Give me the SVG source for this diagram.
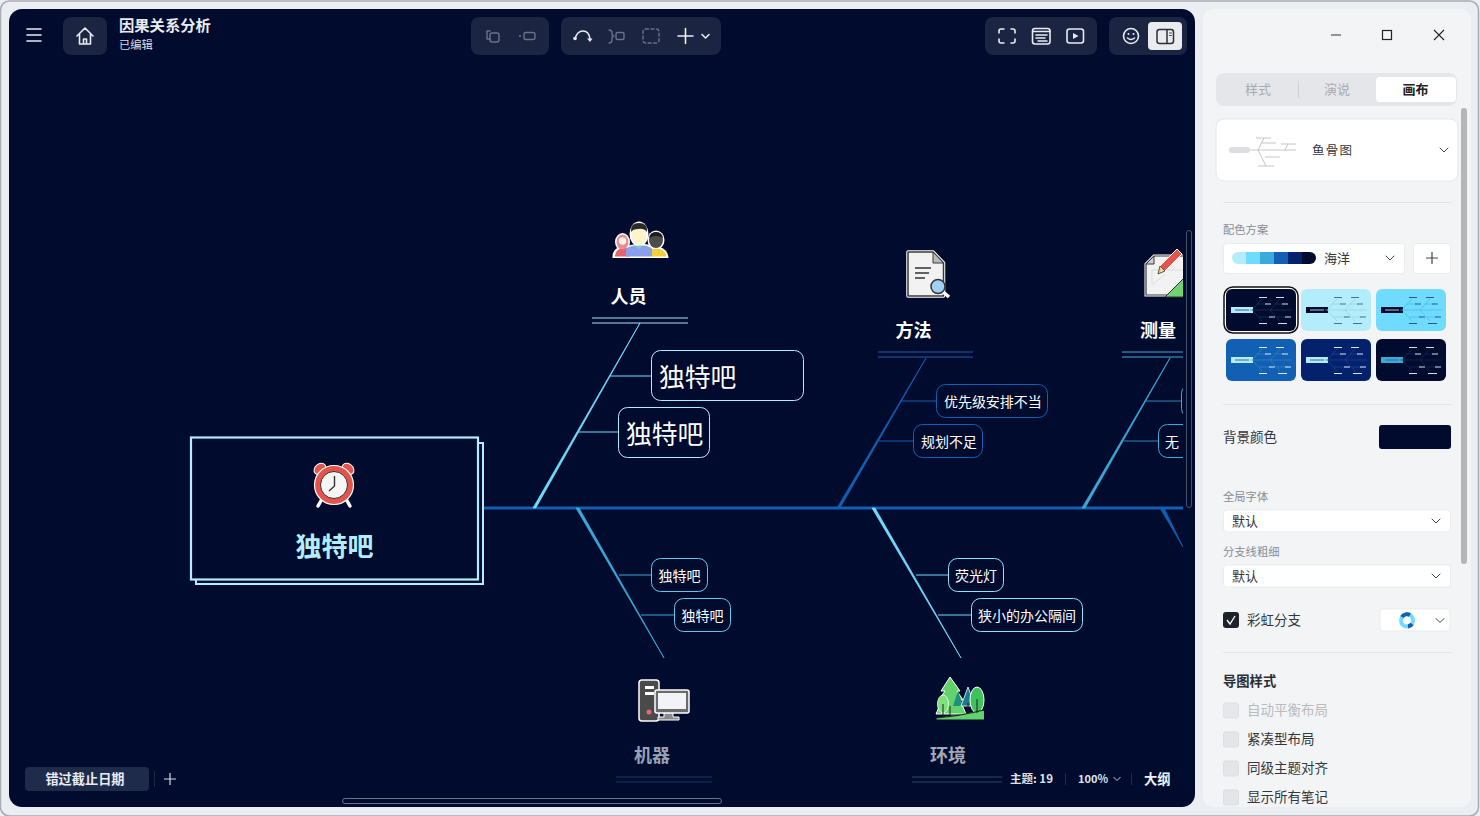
<svg xmlns="http://www.w3.org/2000/svg" xmlns:xlink="http://www.w3.org/1999/xlink" width="1480" height="816" viewBox="0 0 1480 816">
<style>
text{font-family:"Noto Sans CJK SC","Noto Sans",sans-serif}
.ui{fill:none;stroke:#e8ecf2;stroke-width:1.6;stroke-linecap:round;stroke-linejoin:round}
.dim{fill:none;stroke:#6b7288;stroke-width:1.4;stroke-linecap:round;stroke-linejoin:round}
.bar{fill:#1b2440}
.chev{fill:none;stroke:#444;stroke-width:1;stroke-linecap:round;stroke-linejoin:round}
.card{fill:#fff}
.sel{fill:#fff;stroke:#e9ebee;stroke-width:1}
.hr{stroke:#e3e5e9;stroke-width:1}
.lab{font-size:11.3px;fill:#8a8d93}
.txt{font-size:13.5px;fill:#33363c}
.cb{fill:#e3e5e8;stroke:#dcdee2;stroke-width:1}
.topic{font-size:18px;font-weight:700;fill:#fff;text-anchor:middle}
.sub{fill:#000b2e;stroke-width:1}
.subt{fill:#fff;font-size:14px}
.tb{fill:none;stroke-width:.5}
.tl{fill:none;stroke-width:1}
</style>
<defs>
<clipPath id="view"><rect x="9" y="9" width="1174" height="798"/></clipPath>
<path id="bones" d="M24 21H66M26 21L36 10M44 21L54 10M26 21L36 32M44 21L54 32M31 15H41M49 15H58M33 28H46M51 28H62"/>
<path id="labels" d="M33 8.500H41M50 8.500H58M39 15H45M56 15H62M43 28H49M59 28H65M33 34.500H41M52 34.500H61"/>
</defs>
<rect x="0" y="0" width="1480" height="816" fill="#eaedf2"/>
<rect x="0.500" y="1" width="1478" height="815" rx="9" fill="#eaedf2" stroke="#a9abb3" stroke-width="1.500"/>
<rect id="canvas" x="9" y="9" width="1186" height="798" rx="13" fill="#000b2e"/>

<g id="connectors" clip-path="url(#view)" fill="none">
<rect x="484" y="506.500" width="699" height="3" fill="#1160b4"/>
<path d="M533 508L640 323L535.800 508Z" fill="#6fdcff" stroke="#6fdcff" stroke-width=".8"/>
<path d="M610 376H651M578 432H618" stroke="#6fdcff" stroke-width="1.200"/>
<path d="M592 318H688M592 323H688" stroke="#a6e4fb" stroke-width="1"/>
<path d="M837 508L926 358L840 508Z" fill="#1160b4" stroke="#1160b4" stroke-width=".8"/>
<path d="M901 401H937M879 441H913" stroke="#1160b4" stroke-width="1.200"/>
<path d="M878 352H973M878 357H973" stroke="#1a5fae" stroke-width="1"/>
<path d="M1082 508L1170 358L1085 508Z" fill="#38aadb" stroke="#38aadb" stroke-width=".8"/>
<path d="M1146 401H1181M1124 441H1158" stroke="#2a86b5" stroke-width="1.200"/>
<path d="M1122 352H1183M1122 357H1183" stroke="#4aa6d6" stroke-width="1"/>
<path d="M576 508L664 658L579 508Z" fill="#38aadb" stroke="#38aadb" stroke-width=".8"/>
<path d="M619 575H651M641 615H674" stroke="#38aadb" stroke-width="1.200"/>
<path d="M616 777H712M616 782H712" stroke="#1a3a68" stroke-width="1"/>
<path d="M872 508L961 658L875 508Z" fill="#6fdcff" stroke="#6fdcff" stroke-width=".8"/>
<path d="M916 575H948M938 615H971" stroke="#6fdcff" stroke-width="1.200"/>
<path d="M912 777H1002M912 782H1002" stroke="#2a4468" stroke-width="1"/>
<path d="M1160 508L1183 547L1164 508Z" fill="#1160b4" stroke="#1160b4" stroke-width=".8"/>
</g>

<g id="central">
<path d="M478.500 443H483V584H196V579.500" fill="none" stroke="#b3edfb" stroke-width="2"/>
<rect x="191" y="437.500" width="287" height="142" fill="#000b2e" stroke="#b3edfb" stroke-width="2.200"/>
<g id="clock">
<path d="M322 499L318 506M346 499L350 506" stroke="#fff" stroke-width="3.500" stroke-linecap="round"/>
<ellipse cx="320" cy="469" rx="6.500" ry="5" transform="rotate(-40 320 469)" fill="#e5534b" stroke="#fff"/>
<ellipse cx="348" cy="469" rx="6.500" ry="5" transform="rotate(40 348 469)" fill="#e5534b" stroke="#fff"/>
<circle cx="334" cy="485" r="19.500" fill="#e5534b" stroke="#fff" stroke-width="1.200"/>
<circle cx="334" cy="485" r="13.500" fill="#f6f6f6" stroke="#333" stroke-width="1"/>
<path d="M334.500 476V486L329 491" fill="none" stroke="#333" stroke-width="1.400"/>
</g>
<text x="334.500" y="556" font-size="26" font-weight="700" fill="#b3edfb" text-anchor="middle">独特吧</text>
</g>

<g id="t-people">
<g id="icon-people">
<path d="M612.500 258Q612 249 620 247L636 244H645L660 247Q668 250 668.500 258Z" fill="#fff"/>
<ellipse cx="622.500" cy="242" rx="7.500" ry="9" fill="#fff"/>
<ellipse cx="656" cy="240" rx="8.500" ry="9.500" fill="#fff"/>
<path d="M615 256.500Q615 250 622 248H630V256.500Z" fill="#e5636a"/>
<path d="M652 256.500V249H660Q666 251 666.500 256.500Z" fill="#f3cf3c"/>
<path d="M626 256.500V249Q627 247 634 245.500H645Q651 247 652 249V256.500Z" fill="#8aa0e8"/>
<ellipse cx="622.500" cy="242" rx="6" ry="7.500" fill="#e88d95"/>
<circle cx="622.500" cy="241" r="3.700" fill="#fdf4e2"/>
<ellipse cx="656" cy="240" rx="7" ry="8" fill="#4c4c4c"/>
<path d="M649 238Q650 232 656 232Q662 232 663 238Q656 234 649 238Z" fill="#1d1d1d"/>
<ellipse cx="639" cy="234" rx="9.500" ry="12.500" fill="#fff"/>
<ellipse cx="639" cy="235" rx="7.500" ry="10" fill="#fdf4c9"/>
<path d="M631 232Q630 223 639 223Q648 223 647 232Q644 228 638 229Q633 229 631 232Z" fill="#2a2a2a"/>
<path d="M635 245.500L639 249L643 245.500" fill="#7fd0c8"/>
</g>
<text class="topic" x="628.500" y="303">人员</text>
</g>
<g id="n-p1"><rect class="sub" x="651.500" y="350.500" width="152" height="50" rx="9" stroke="#b3edfb"/><text x="659" y="387" font-size="25.800" fill="#fff">独特吧</text></g>
<g id="n-p2"><rect class="sub" x="618.500" y="407.500" width="91" height="50" rx="9" stroke="#b3edfb"/><text x="626" y="444" font-size="25.800" fill="#fff">独特吧</text></g>

<g id="t-method">
<g id="icon-method">
<path d="M908 252H933L943.500 263V296H908Z" fill="#f2f2f2" stroke="#fff" stroke-width="3.500" stroke-linejoin="round"/>
<path d="M908 252H933L943.500 263V296H908Z" fill="#f2f2f2" stroke="#3a3a3a" stroke-width="1.500" stroke-linejoin="round"/>
<path d="M933 252V263H943.500Z" fill="#bbb" stroke="#3a3a3a"/>
<path d="M915 268H931M915 273H929M915 278H925" stroke="#333" stroke-width="1.300"/>
<path d="M942 291L949 297" stroke="#fff" stroke-width="3.500"/>
<circle cx="938" cy="286.500" r="7" fill="#9fd0f7" stroke="#333" stroke-width="1.500"/>
</g>
<text class="topic" x="913.500" y="337">方法</text>
</g>
<g id="n-m1"><rect class="sub" x="936.500" y="384.500" width="111" height="33" rx="9" stroke="#1160b4"/><text class="subt" x="944" y="406.500" letter-spacing="-.05">优先级安排不当</text></g>
<g id="n-m2"><rect class="sub" x="913.500" y="424.500" width="69" height="33" rx="9" stroke="#1160b4"/><text class="subt" x="921" y="446.500" letter-spacing="-.05">规划不足</text></g>

<g clip-path="url(#view)">
<g id="t-measure">
<g id="icon-measure">
<path d="M1154 256H1190V295H1146V264Z" fill="#f2f2f2" stroke="#fff" stroke-width="3"/>
<path d="M1154 256H1190V295H1146V264Z" fill="#f2f2f2" stroke="#3a3a3a" stroke-width="1.200"/>
<path d="M1146 264H1154V256Z" fill="#ccc" stroke="#3a3a3a"/>
<path d="M1152 270H1183M1152 270V285L1165 274" fill="none" stroke="#ddd" stroke-width="1"/>
<path d="M1165 297L1186 276V297Z" fill="#6fd36f" stroke="#333" stroke-width="1"/>
<path d="M1160 266L1177 249L1182 254L1165 271Z" fill="#e5534b" stroke="#fff" stroke-width="1"/>
<path d="M1160 266L1165 271L1158 274Z" fill="#f4d58a" stroke="#333" stroke-width=".8"/>
</g>
<text class="topic" x="1158" y="337">测量</text>
</g>
<g id="n-s1"><rect class="sub" x="1181.500" y="384.500" width="60" height="33" rx="9" stroke="#38aadb"/></g>
<g id="n-s2"><rect class="sub" x="1158.500" y="424.500" width="60" height="33" rx="9" stroke="#38aadb"/><text class="subt" x="1165" y="446.500">无</text></g>
</g>

<g id="n-c1"><rect class="sub" x="651.500" y="558.500" width="56" height="33" rx="9" stroke="#5fc8ee"/><text class="subt" x="658.500" y="580.500">独特吧</text></g>
<g id="n-c2"><rect class="sub" x="674.500" y="598.500" width="56" height="33" rx="9" stroke="#5fc8ee"/><text class="subt" x="681.500" y="620.500">独特吧</text></g>
<g id="n-e1"><rect class="sub" x="948.500" y="558.500" width="55" height="33" rx="9" stroke="#8fe4fb"/><text class="subt" x="955" y="580.500">荧光灯</text></g>
<g id="n-e2"><rect class="sub" x="971.500" y="598.500" width="111" height="33" rx="9" stroke="#8fe4fb"/><text class="subt" x="978" y="620.500">狭小的办公隔间</text></g>

<g id="t-machine">
<g id="icon-machine">
<rect x="639" y="680" width="20" height="41" rx="3" fill="#4a4a4a" stroke="#fff" stroke-width="1.500"/>
<rect x="645" y="686" width="9" height="3" fill="#fff"/>
<rect x="645" y="692" width="9" height="3" fill="#fff"/>
<circle cx="649" cy="712" r="2.500" fill="#e06a7a"/>
<path d="M664 712V717H658V720H679V717H673V712Z" fill="#8a8a8a" stroke="#fff"/>
<rect x="655" y="690" width="34" height="23" rx="2" fill="#6a6a6a" stroke="#fff" stroke-width="1.500"/>
<rect x="658" y="693" width="28" height="16" fill="#f1f3f7"/>
</g>
<text class="topic" x="652" y="762" style="fill:#98a3b4">机器</text>
</g>

<g id="t-env">
<g id="icon-env">
<path d="M950 677L960 691L957 691L963 700L960 700L966 714H936L942 700L939 700L945 691L941 691Z" fill="#62d36a" stroke="#fff" stroke-width="1"/>
<path d="M958 691L963 706H953Z" fill="#1e8f7a"/>
<path d="M968 687L975 706H961Z" fill="#177a8f" stroke="#fff" stroke-width=".8"/>
<ellipse cx="977" cy="700" rx="7" ry="13" fill="#3cc35a" stroke="#fff" stroke-width="1"/>
<ellipse cx="943" cy="704" rx="5.500" ry="9" fill="#7ee07a" stroke="#fff" stroke-width=".8"/>
<path d="M936.500 718L984 710.500V719.500H936.500Z" fill="#62d36a"/>
<path d="M936 718Q960 716 984 710" fill="none" stroke="#222" stroke-width="1.200"/>
<path d="M977 699V713M943 704V716M950 706V715M968 703V712" stroke="#222" stroke-width="1"/>
</g>
<text class="topic" x="948" y="762" style="fill:#a4a8b6">环境</text>
</g>

<g id="toolbar">
<path class="ui" d="M27 29H41M27 35H41M27 41H41"/>
<rect class="bar" x="63" y="17" width="44" height="38" rx="8"/>
<path class="ui" d="M77 36L85 28L93 36M79.500 34V44H90.500V34M83.500 44V39H86.500V44"/>
<text x="119" y="31" font-size="15.300" font-weight="700" fill="#e8ecf2">因果关系分析</text>
<text x="119" y="49" font-size="11.300" fill="#d8dce4">已编辑</text>
<rect class="bar" x="471" y="17" width="78" height="38" rx="8"/>
<path class="dim" d="M487 35V31H490M487 35V39H490"/><rect class="dim" x="490" y="33" width="9" height="9" rx="2"/>
<circle cx="520" cy="36" r="1" fill="#6b7288"/><rect class="dim" x="524" y="32.500" width="11" height="7" rx="2"/>
<rect class="bar" x="561" y="17" width="160" height="38" rx="8"/>
<path class="ui" d="M575 39Q577 31 583 31Q589 31 590 39"/><circle cx="575" cy="38.500" r="1.800" fill="#e8ecf2"/><path d="M587 38.500L590 42L592.500 38.500Z" fill="#e8ecf2"/>
<path class="dim" d="M609 30Q612 30 612 33V34Q612 36 614 36Q612 36 612 38V40Q612 43 609 43"/><rect class="dim" x="616" y="32.500" width="8" height="7" rx="1.500"/>
<rect class="dim" x="643" y="29" width="16" height="14" rx="2.500" stroke-dasharray="3 2.500"/>
<path d="M678 36H693M685.500 28.500V43.500" fill="none" stroke="#eef0f4" stroke-width="1.600" stroke-linecap="round"/>
<path class="ui" d="M702 34.500L705.500 38L709 34.500" stroke-width="1"/>
<rect class="bar" x="985" y="17" width="112" height="38" rx="8"/>
<path class="ui" d="M999 33V31Q999 29 1001 29H1004M1011 29H1013Q1015 29 1015 31V33M1015 39V41Q1015 43 1013 43H1011M1004 43H1001Q999 43 999 41V39"/>
<rect class="ui" x="1032.500" y="28.500" width="17.500" height="15.500" rx="2.500"/><path class="ui" d="M1033 31.500H1050" stroke-width="1"/><path class="ui" d="M1036 35H1047M1036 38H1045M1038 41H1047" stroke-width="1"/>
<rect class="ui" x="1067" y="29" width="16.500" height="14" rx="2.500"/><path d="M1073 33L1078.500 36L1073 39Z" fill="#e8ecf2"/>
<rect class="bar" x="1109" y="17" width="78" height="38" rx="8"/>
<circle class="ui" cx="1131" cy="36" r="7.500"/><circle cx="1128.500" cy="34" r="1" fill="#e8ecf2"/><circle cx="1133.500" cy="34" r="1" fill="#e8ecf2"/><path class="ui" d="M1127.500 38Q1131 41 1134.500 38" stroke-width="1.100"/>
<rect x="1148" y="22" width="34" height="28" rx="4" fill="#e9ebee"/>
<rect x="1157" y="29.500" width="16.500" height="14" rx="2.500" fill="none" stroke="#2b2f3a" stroke-width="1.500"/><path d="M1167 30V43" stroke="#2b2f3a" stroke-width="1.500"/><path d="M1169 33H1172M1169 35.500H1172" stroke="#2b2f3a" stroke-width=".8"/>
</g>
<rect x="1186.500" y="230.500" width="5" height="277" rx="2.500" fill="none" stroke="#4a5268" stroke-width="1"/>

<g id="statusbar">
<rect x="25" y="767" width="124" height="24" rx="4" fill="#1f2b4a"/>
<text x="85" y="784" font-size="13.200" font-weight="700" fill="#e8ecf2" text-anchor="middle">错过截止日期</text>
<path d="M154.500 771V787" stroke="#1b2845"/>
<path d="M164 779H176M170 773V785" stroke="#d8dce4" stroke-width="1.200" fill="none"/>
<rect x="342.500" y="798.500" width="379" height="5" rx="2.500" fill="none" stroke="#6a7288"/>
<text x="1010" y="783" font-size="11.500" font-weight="700" fill="#dfe3ea">主题: 19</text>
<path d="M1065.500 773V785M1131.500 773V785" stroke="#1f2b4a"/>
<text x="1078" y="783" font-size="11" font-weight="700" fill="#dfe3ea">100%</text>
<path d="M1113.500 777L1117 780.500L1120.500 777" fill="none" stroke="#c8ccd4" stroke-width="1"/>
<text x="1144" y="784" font-size="13.200" font-weight="700" fill="#f0f2f5">大纲</text>
</g>

<g id="panel">
<rect x="1203" y="9" width="268" height="798" rx="10" fill="#f2f4f6"/>
<path d="M1331 35H1341" stroke="#555" stroke-width="1.200"/>
<rect x="1382.500" y="30.500" width="9" height="9" fill="none" stroke="#222" stroke-width="1.200"/>
<path d="M1434 30L1444 40M1444 30L1434 40" stroke="#222" stroke-width="1.100"/>
<rect x="1216" y="73" width="241" height="33" rx="8" fill="#e4e6ea"/>
<rect x="1376" y="77" width="80" height="25" rx="4" fill="#fff"/>
<path d="M1298.500 81V98" stroke="#cfd1d6"/>
<text x="1258" y="94" font-size="13" fill="#a8abb0" text-anchor="middle">样式</text>
<text x="1337" y="94" font-size="13" fill="#a8abb0" text-anchor="middle">演说</text>
<text x="1415.500" y="94" font-size="13" font-weight="700" fill="#222" text-anchor="middle">画布</text>
<rect x="1461" y="108" width="6" height="456" rx="3" fill="#b4b6ba"/>
<rect class="card" x="1216" y="119" width="242" height="62" rx="8" stroke="#e6e8ec"/>
<g fill="none" stroke="#c4c6ca" stroke-width="1">
<rect x="1229" y="147" width="21" height="6" rx="3" fill="#dcdee1" stroke="none"/>
<path d="M1250 150H1296M1256 138H1271M1264 138L1258 150L1266 166M1258 166H1274M1261 143H1276M1265 157H1280M1281 144H1296M1285 150L1288 144"/>
</g>
<text x="1312" y="155" font-size="12.500" fill="#33363c" letter-spacing="1.300">鱼骨图</text>
<path class="chev" d="M1440 148L1444 152L1448 148"/>
<path class="hr" d="M1223 202.500H1452M1223 404.500H1452M1223 652.500H1452"/>
<text class="lab" x="1223" y="234">配色方案</text>
<rect class="sel" x="1223.500" y="243.500" width="181" height="30" rx="3"/>
<g id="palette">
<path d="M1238 252H1246V264H1238A6 6 0 0 1 1238 252Z" fill="#b3edfb"/>
<rect x="1246" y="252" width="14" height="12" fill="#6fdcff"/>
<rect x="1260" y="252" width="14" height="12" fill="#38aadb"/>
<rect x="1274" y="252" width="14" height="12" fill="#1160b4"/>
<rect x="1288" y="252" width="14" height="12" fill="#04216e"/>
<path d="M1302 252H1310A6 6 0 0 1 1310 264H1302Z" fill="#000b2e"/>
</g>
<text x="1324" y="263" font-size="13" fill="#33363c">海洋</text>
<path class="chev" d="M1386 256L1390 260L1394 256"/>
<rect class="sel" x="1413.500" y="243.500" width="37" height="30" rx="3"/>
<path d="M1426 258H1438M1432 252V264" stroke="#444" stroke-width="1.200"/>
<g id="themes">
<rect x="1224" y="287" width="74" height="46" rx="9" fill="#fff" stroke="#111" stroke-width="1.500"/>
<rect x="1226" y="289" width="70" height="42" rx="6" fill="#000b2e"/>
<rect x="1301" y="289" width="70" height="42" rx="6" fill="#b3edfb"/>
<rect x="1376" y="289" width="70" height="42" rx="6" fill="#6fdcff"/>
<rect x="1226" y="339" width="70" height="42" rx="6" fill="#1160b4"/>
<rect x="1301" y="339" width="70" height="42" rx="6" fill="#04216e"/>
<rect x="1376" y="339" width="70" height="42" rx="6" fill="#000b2e"/>
<rect x="1231" y="307" width="22" height="6" fill="#b3edfb"/>
<rect x="1306" y="307" width="22" height="6" fill="#000b2e"/>
<rect x="1381" y="307" width="22" height="6" fill="#000b2e"/>
<rect x="1231" y="357" width="22" height="6" fill="#b3edfb"/>
<rect x="1306" y="357" width="22" height="6" fill="#b3edfb"/>
<rect x="1381" y="357" width="22" height="6" fill="#38aadb"/>
<path d="M1235 310H1249" stroke="#3a5a80" stroke-width="1"/>
<path d="M1310 310H1324M1385 310H1399" stroke="#b8c4d4" stroke-width="1"/>
<path d="M1235 360H1249M1310 360H1324M1385 360H1399" stroke="#3a6a90" stroke-width="1"/>
<use xlink:href="#bones" x="1226" y="289" class="tb" stroke="#1d4a7a"/>
<use xlink:href="#bones" x="1301" y="289" class="tb" stroke="#8ac0d8"/>
<use xlink:href="#bones" x="1376" y="289" class="tb" stroke="#38aadb"/>
<use xlink:href="#bones" x="1226" y="339" class="tb" stroke="#4a90cc"/>
<use xlink:href="#bones" x="1301" y="339" class="tb" stroke="#2a5aa0"/>
<use xlink:href="#bones" x="1376" y="339" class="tb" stroke="#143a70"/>
<use xlink:href="#labels" x="1226" y="289" class="tl" stroke="#cfe0ee"/>
<use xlink:href="#labels" x="1301" y="289" class="tl" stroke="#4a7088"/>
<use xlink:href="#labels" x="1376" y="289" class="tl" stroke="#2a5a80"/>
<use xlink:href="#labels" x="1226" y="339" class="tl" stroke="#d8e8f4"/>
<use xlink:href="#labels" x="1301" y="339" class="tl" stroke="#d8e8f4"/>
<use xlink:href="#labels" x="1376" y="339" class="tl" stroke="#cfe0ee"/>
</g>
<text x="1223" y="442" font-size="13.500" fill="#33363c">背景颜色</text>
<rect x="1379" y="425" width="72" height="24" rx="3" fill="#000b2e"/>
<text class="lab" x="1223" y="501">全局字体</text>
<rect class="sel" x="1223.500" y="510" width="227" height="22" rx="3"/>
<text x="1232" y="526" font-size="13" fill="#33363c">默认</text>
<path class="chev" d="M1432 519L1436 523L1440 519"/>
<text class="lab" x="1223" y="556">分支线粗细</text>
<rect class="sel" x="1223.500" y="565" width="227" height="22" rx="3"/>
<text x="1232" y="581" font-size="13" fill="#33363c">默认</text>
<path class="chev" d="M1432 574L1436 578L1440 574"/>
<rect x="1223" y="612" width="16" height="16" rx="3" fill="#1d2129"/>
<path d="M1227 620L1230 624L1235 616" fill="none" stroke="#fff" stroke-width="1.300"/>
<text class="txt" x="1247" y="625">彩虹分支</text>
<rect class="sel" x="1380" y="609" width="70" height="22" rx="3"/>
<circle cx="1407" cy="620.500" r="6" fill="none" stroke="#6fdcff" stroke-width="4"/>
<path d="M1402 617A6 6 0 0 1 1410 615M1412 624A6 6 0 0 1 1408 626.500" fill="none" stroke="#1160b4" stroke-width="4"/>
<path class="chev" d="M1436 618.500L1440 622.500L1444 618.500"/>
<text x="1223" y="686" font-size="13.300" font-weight="700" fill="#2a2d33">导图样式</text>
<rect class="cb" x="1223.500" y="703" width="15" height="15" rx="2" opacity=".8"/>
<text class="txt" x="1247" y="715" style="fill:#b9bbbf">自动平衡布局</text>
<rect class="cb" x="1223.500" y="732" width="15" height="15" rx="2"/>
<text class="txt" x="1247" y="744">紧凑型布局</text>
<rect class="cb" x="1223.500" y="761" width="15" height="15" rx="2"/>
<text class="txt" x="1247" y="773">同级主题对齐</text>
<rect class="cb" x="1223.500" y="790" width="15" height="15" rx="2"/>
<text class="txt" x="1247" y="802">显示所有笔记</text>
</g>
</svg>
